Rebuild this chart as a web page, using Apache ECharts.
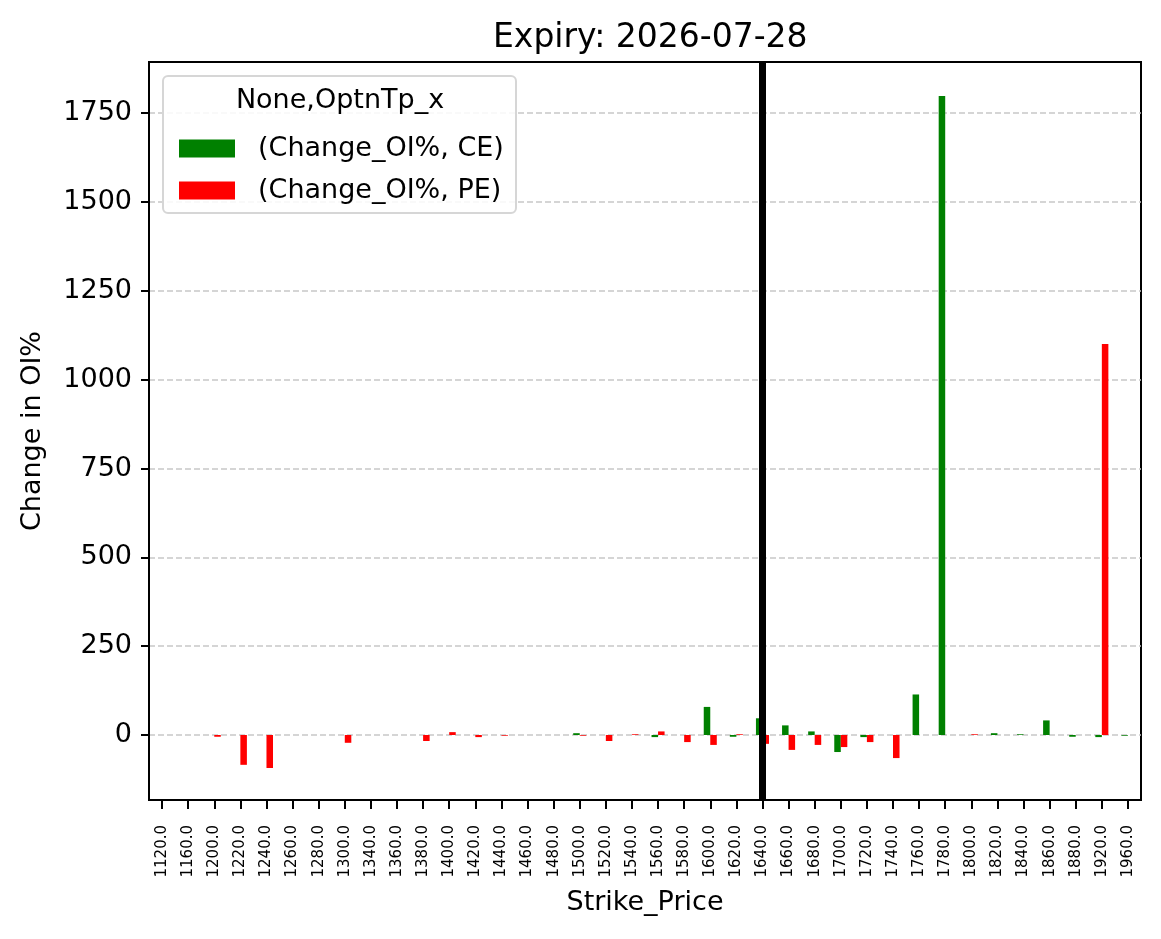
<!DOCTYPE html>
<html>
<head>
<meta charset="utf-8">
<script src="https://cdn.jsdelivr.net/npm/echarts@6/dist/echarts.min.js"></script>
<style>
  html, body { margin: 0; padding: 0; background: #fff; }
  #chart { width: 1161px; height: 939px; }
</style>
</head>
<body>
<div id="chart"></div>
<script>
// strike prices (category axis)
var strikes = ['1120.0', '1160.0', '1200.0', '1220.0', '1240.0', '1260.0', '1280.0', '1300.0', '1340.0', '1360.0',
  '1380.0', '1400.0', '1420.0', '1440.0', '1460.0', '1480.0', '1500.0', '1520.0', '1540.0', '1560.0',
  '1580.0', '1600.0', '1620.0', '1640.0', '1660.0', '1680.0', '1700.0', '1720.0', '1740.0', '1760.0',
  '1780.0', '1800.0', '1820.0', '1840.0', '1860.0', '1880.0', '1920.0', '1960.0']
// change in OI% for calls
var ceValues = [null, null, null, null, null, null, null, null, null, null,
  null, null, null, null, null, null, 5, null, null, -6,
  null, 79, -5, 47, 27, 10, -48, -6, null, 114,
  1798, null, 5, 2, 41, -5, -6, -2]
// change in OI% for puts
var peValues = [null, null, -5, -84, -93, null, null, -22, null, null,
  -17, 8, -6, -2, null, null, -2, -17, 2, 10,
  -20, -28, 2, -25, -42, -28, -34, -20, -65, null,
  null, 2, null, null, null, null, 1100, null]
var yTicks = [0, 250, 500, 750, 1000, 1250, 1500, 1750]
var spotStrike = '1640.0'

var myChart = echarts.init(document.getElementById('chart'))
var font = 'DejaVu Sans'

myChart.setOption({
  backgroundColor: '#fff',
  animation: false,
  textStyle: { fontFamily: font },
  title: {
    text: 'Expiry: 2026-07-28',
    left: 488,
    top: 17,
    textStyle: { fontFamily: font, fontSize: 33, fontWeight: 'normal', color: '#000' }
  },
  grid: { //坐标区域
    left: 149, right: 20, top: 62, bottom: 139,
    show: true, borderColor: '#000', borderWidth: 2,
    containLabel: false
  },
  graphic: [{
    type: 'rect',
    z: 1,
    shape: { x: 163, y: 76, width: 353, height: 137, r: 5 },
    style: { fill: 'rgba(255,255,255,0.85)', stroke: '#d6d6d6', lineWidth: 2 }
  }, {
    type: 'text',
    z: 2,
    style: {
      x: 340, y: 101, text: 'None,OptnTp_x', align: 'center', verticalAlign: 'middle',
      fontFamily: font, fontSize: 27, fill: '#000'
    }
  }],
  legend: {
    z: 5,
    orient: 'vertical',
    left: 174, top: 130,
    itemWidth: 56, itemHeight: 18, itemGap: 15,
    icon: 'rect',
    textStyle: { fontFamily: font, fontSize: 27, color: '#000', padding: [0, 0, 0, 18] },
    data: ['(Change_OI%, CE)', '(Change_OI%, PE)']
  },
  xAxis: {
    type: 'category',
    data: strikes,
    name: 'Strike_Price',
    nameLocation: 'middle',
    nameGap: 89,
    nameTextStyle: { fontFamily: font, fontSize: 27, color: '#000' },
    axisLine: { show: true, onZero: false, lineStyle: { color: '#000', width: 2 } },
    axisTick: { show: true, interval: 0, alignWithLabel: true, length: 9, lineStyle: { color: '#000', width: 2 } },
    axisLabel: { rotate: 90, fontSize: 15, color: '#000', interval: 0, margin: 25 },
    splitLine: { show: false }
  },
  yAxis: {
    type: 'value',
    min: -183,
    max: 1894,
    name: 'Change in OI%',
    nameLocation: 'middle',
    nameGap: 103,
    nameTextStyle: { fontFamily: font, fontSize: 27, color: '#000' },
    axisLine: { show: true, lineStyle: { color: '#000', width: 2 } },
    axisTick: { show: true, length: 8, customValues: yTicks, lineStyle: { color: '#000', width: 2 } },
    axisLabel: {
      fontSize: 27, color: '#000', customValues: yTicks, margin: 17,
      formatter: function (v) { return String(v) }
    },
    splitLine: { show: true, lineStyle: { color: '#c8c8c8', type: [6, 3], width: 1.5 } }
  },
  series: [{
    type: 'bar',
    name: '(Change_OI%, CE)',
    data: ceValues,
    barWidth: '25%',
    barGap: '0%',
    itemStyle: { color: '#008000' }
  }, {
    type: 'bar',
    name: '(Change_OI%, PE)',
    data: peValues,
    barWidth: '25%',
    barGap: '0%',
    itemStyle: { color: '#ff0000' }
  }, {
    // 现价竖线
    type: 'line',
    name: 'spot',
    data: [],
    markLine: {
      silent: true,
      symbol: 'none',
      label: { show: false },
      lineStyle: { color: '#000', width: 7, type: 'solid' },
      data: [{ xAxis: spotStrike }]
    }
  }]
})
</script>
</body>
</html>
